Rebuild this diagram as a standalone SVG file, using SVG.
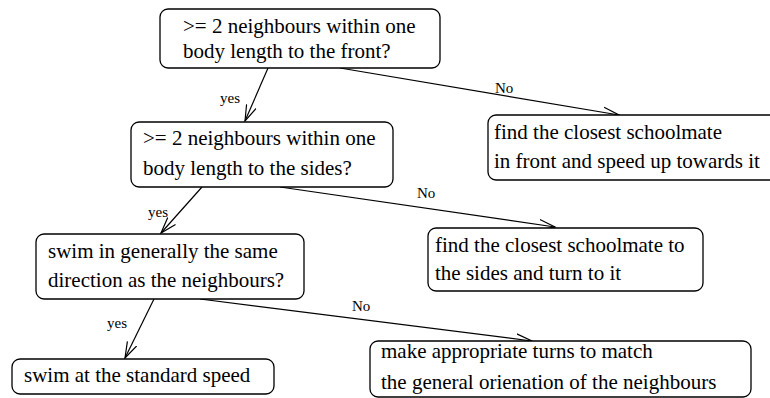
<svg xmlns="http://www.w3.org/2000/svg" width="770" height="398" viewBox="0 0 770 398">
  <style>
    .box { fill: #ffffff; stroke: #000000; stroke-width: 1.3; }
    .node-text { font-family: "Liberation Serif", "Times New Roman", serif; font-size: 21px; fill: #000000; }
    .lbl { font-family: "Liberation Serif", "Times New Roman", serif; font-size: 15px; fill: #000000; }
    .edge { fill: none; stroke: #000000; stroke-width: 1.2; marker-end: url(#open); }
  </style>
  <defs>
    <marker id="open" markerUnits="userSpaceOnUse" markerWidth="18" markerHeight="12" refX="16" refY="6" orient="auto">
      <path d="M0,0.8 L16,6 L0,11.2" fill="none" stroke="#000000" stroke-width="1.2"/>
    </marker>
  </defs>
  <rect width="770" height="398" fill="#ffffff"/>

  <g id="connectors">
    <line class="edge" x1="268" y1="68" x2="245" y2="121"/>
    <line class="edge" x1="340" y1="68" x2="619" y2="115"/>
    <line class="edge" x1="202" y1="187" x2="161" y2="233"/>
    <line class="edge" x1="280" y1="187" x2="555" y2="227"/>
    <line class="edge" x1="154" y1="299" x2="125" y2="358"/>
    <line class="edge" x1="200" y1="299" x2="532" y2="341"/>
    <text class="lbl" x="220" y="103">yes</text>
    <text class="lbl" x="495" y="93">No</text>
    <text class="lbl" x="148" y="217">yes</text>
    <text class="lbl" x="417" y="198">No</text>
    <text class="lbl" x="107" y="328">yes</text>
    <text class="lbl" x="352" y="311">No</text>
  </g>

  <g id="front-check" class="node-text">
    <rect class="box" x="160" y="9" width="280" height="59" rx="8"/>
    <text x="183" y="33">&gt;= 2 neighbours within one</text>
    <text x="183" y="58">body length to the front?</text>
  </g>

  <g id="sides-check" class="node-text">
    <rect class="box" x="131" y="122" width="262" height="65" rx="8"/>
    <text x="143" y="145">&gt;= 2 neighbours within one</text>
    <text x="143" y="175">body length to the sides?</text>
  </g>

  <g id="direction-check" class="node-text">
    <rect class="box" x="36" y="234" width="268" height="65" rx="8"/>
    <text x="48" y="258">swim in generally the same</text>
    <text x="48" y="287">direction as the neighbours?</text>
  </g>

  <g id="speed-up" class="node-text">
    <rect class="box" x="488" y="115" width="300" height="65" rx="8"/>
    <text x="494" y="139">find the closest schoolmate</text>
    <text x="494" y="168">in front and speed up towards it</text>
  </g>

  <g id="turn-to-side" class="node-text">
    <rect class="box" x="428" y="228" width="275" height="63" rx="8"/>
    <text x="435" y="252">find the closest schoolmate to</text>
    <text x="435" y="280">the sides and turn to it</text>
  </g>

  <g id="standard-speed" class="node-text">
    <rect class="box" x="12" y="359" width="262" height="35" rx="8"/>
    <text x="24" y="382">swim at the standard speed</text>
  </g>

  <g id="match-orientation" class="node-text">
    <rect class="box" x="370" y="341" width="381" height="56" rx="8"/>
    <text x="381" y="358">make appropriate turns to match</text>
    <text x="381" y="389">the general orienation of the neighbours</text>
  </g>
</svg>
